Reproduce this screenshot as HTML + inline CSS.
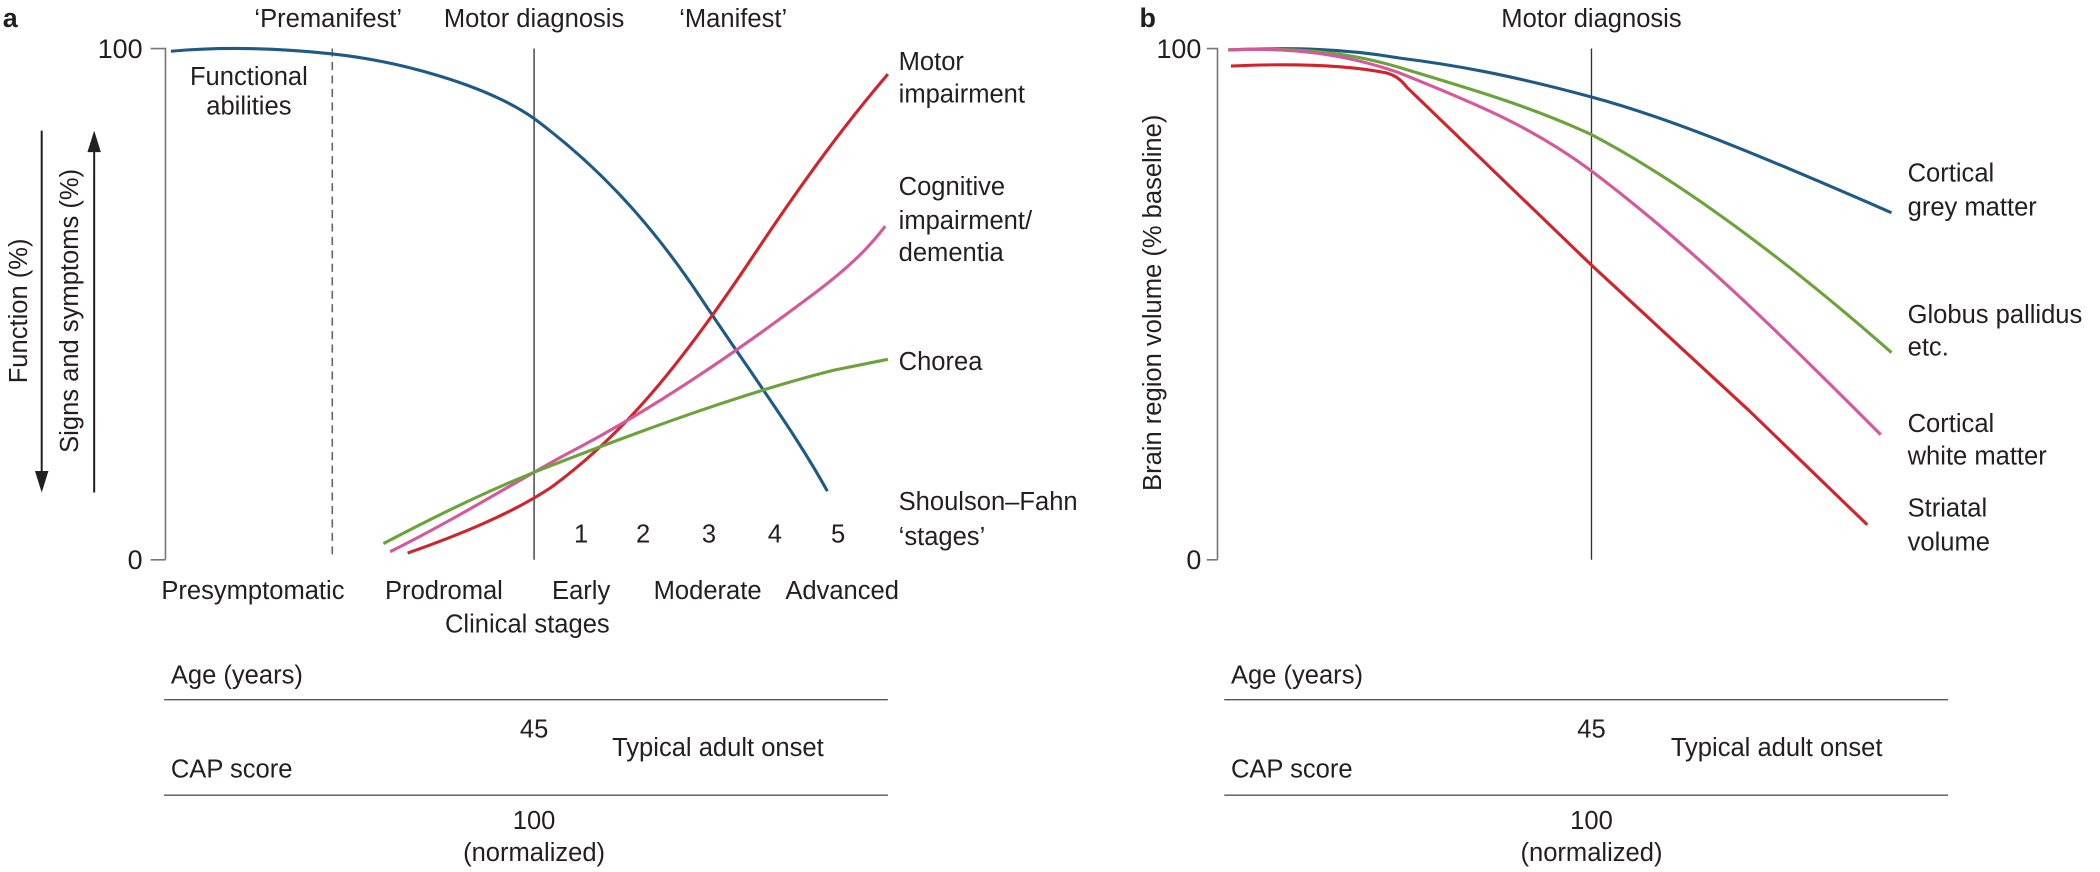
<!DOCTYPE html>
<html><head><meta charset="utf-8"><style>
html,body{margin:0;padding:0;background:#fff;}
svg{display:block;}
text{font-family:"Liberation Sans",sans-serif;font-size:19px;fill:#231f20;}
</style></head><body>
<svg width="2100" height="872" viewBox="0 0 1561 648" xmlns="http://www.w3.org/2000/svg">
<!-- Panel a -->
<text x="2" y="20" style="font-weight:bold;font-size:20px">a</text>
<text x="244" y="20" text-anchor="middle">‘Premanifest’</text>
<text x="397" y="20" text-anchor="middle">Motor diagnosis</text>
<text x="545" y="20" text-anchor="middle">‘Manifest’</text>
<text x="106" y="43" text-anchor="end" style="font-size:20px">100</text>
<text x="106" y="423" text-anchor="end" style="font-size:20px">0</text>
<path d="M112 36H123V416M112 416H123" stroke="#777" stroke-width="1.2" fill="none"/>
<line x1="247" y1="36" x2="247" y2="416" stroke="#666" stroke-width="1.2" stroke-dasharray="6,4"/>
<line x1="397" y1="36" x2="397" y2="416" stroke="#333" stroke-width="1"/>
<text x="185" y="63" text-anchor="middle">Functional</text>
<text x="185" y="85" text-anchor="middle">abilities</text>
<!-- arrows -->
<line x1="31" y1="97" x2="31" y2="352" stroke="#231f20" stroke-width="1.5"/>
<polygon points="26,350 36,350 31,366" fill="#231f20"/>
<line x1="70" y1="112" x2="70" y2="366" stroke="#231f20" stroke-width="1.5"/>
<polygon points="65,113 75,113 70,97" fill="#231f20"/>
<text transform="translate(20,231) rotate(-90)" text-anchor="middle">Function (%)</text>
<text transform="translate(58,231) rotate(-90)" text-anchor="middle">Signs and symptoms (%)</text>
<!-- curves a -->
<path d="M127 38 C160 35 200 35 247 40 S360 62 397 88 C440 120 480 160 520 220 S590 320 615 365" stroke="#1f5a85" stroke-width="2.3" fill="none"/>
<path d="M303 411 C340 398 380 382 410 362 C460 325 500 280 560 190 C600 130 630 90 660 55" stroke="#d2232a" stroke-width="2.3" fill="none"/>
<path d="M290 410 C340 385 380 360 420 338 C490 302 560 252 600 222 C630 200 645 185 658 168" stroke="#d6589a" stroke-width="2.3" fill="none"/>
<path d="M285 404 C340 375 380 357 420 342 C490 315 560 290 620 275 C640 271 650 269 660 267" stroke="#6aa33a" stroke-width="2.3" fill="none"/>
<text x="668" y="52">Motor</text>
<text x="668" y="76">impairment</text>
<text x="668" y="145">Cognitive</text>
<text x="668" y="170">impairment/</text>
<text x="668" y="194">dementia</text>
<text x="668" y="275">Chorea</text>
<text x="668" y="379">Shoulson–Fahn</text>
<text x="668" y="405">‘stages’</text>
<text x="432" y="403" text-anchor="middle">1</text>
<text x="478" y="403" text-anchor="middle">2</text>
<text x="527" y="403" text-anchor="middle">3</text>
<text x="576" y="403" text-anchor="middle">4</text>
<text x="623" y="403" text-anchor="middle">5</text>
<text x="188" y="445" text-anchor="middle">Presymptomatic</text>
<text x="330" y="445" text-anchor="middle">Prodromal</text>
<text x="432" y="445" text-anchor="middle">Early</text>
<text x="526" y="445" text-anchor="middle">Moderate</text>
<text x="626" y="445" text-anchor="middle">Advanced</text>
<text x="392" y="470" text-anchor="middle">Clinical stages</text>
<text x="127" y="508">Age (years)</text>
<line x1="122" y1="520" x2="660" y2="520" stroke="#555" stroke-width="1"/>
<text x="397" y="548" text-anchor="middle">45</text>
<text x="455" y="562">Typical adult onset</text>
<text x="127" y="578">CAP score</text>
<line x1="122" y1="591" x2="660" y2="591" stroke="#555" stroke-width="1"/>
<text x="397" y="616" text-anchor="middle">100</text>
<text x="397" y="640" text-anchor="middle">(normalized)</text>

<!-- Panel b -->
<text x="847" y="20" style="font-weight:bold;font-size:20px">b</text>
<text x="1183" y="20" text-anchor="middle">Motor diagnosis</text>
<text x="893" y="43" text-anchor="end" style="font-size:20px">100</text>
<text x="893" y="423" text-anchor="end" style="font-size:20px">0</text>
<path d="M897 36H905V416M897 416H905" stroke="#777" stroke-width="1.2" fill="none"/>
<line x1="1183" y1="36" x2="1183" y2="416" stroke="#333" stroke-width="1"/>
<text transform="translate(863,225) rotate(-90)" text-anchor="middle">Brain region volume (% baseline)</text>
<path d="M913 37 C960 35 1000 36 1040 43 C1080 48 1120 55 1183 72 C1250 90 1330 125 1406 158" stroke="#1f5a85" stroke-width="2.3" fill="none"/>
<path d="M913 37 C960 35 1000 38 1040 50 C1100 68 1140 80 1183 100 C1250 135 1330 195 1406 262" stroke="#6aa33a" stroke-width="2.3" fill="none"/>
<path d="M913 37 C960 35 1000 40 1040 54 C1100 78 1140 95 1183 127 C1260 185 1330 255 1398 323" stroke="#d6589a" stroke-width="2.3" fill="none"/>
<path d="M915 49 C960 47 1000 48 1030 54 C1038 56 1042 60 1046 65 L1183 197 L1300 305 L1388 390" stroke="#d2232a" stroke-width="2.3" fill="none" stroke-linejoin="round"/>
<text x="1418" y="135">Cortical</text>
<text x="1418" y="160">grey matter</text>
<text x="1418" y="240">Globus pallidus</text>
<text x="1418" y="264">etc.</text>
<text x="1418" y="321">Cortical</text>
<text x="1418" y="345">white matter</text>
<text x="1418" y="384">Striatal</text>
<text x="1418" y="409">volume</text>
<text x="915" y="508">Age (years)</text>
<line x1="910" y1="520" x2="1448" y2="520" stroke="#555" stroke-width="1"/>
<text x="1183" y="548" text-anchor="middle">45</text>
<text x="1242" y="562">Typical adult onset</text>
<text x="915" y="578">CAP score</text>
<line x1="910" y1="591" x2="1448" y2="591" stroke="#555" stroke-width="1"/>
<text x="1183" y="616" text-anchor="middle">100</text>
<text x="1183" y="640" text-anchor="middle">(normalized)</text>
</svg>
</body></html>
